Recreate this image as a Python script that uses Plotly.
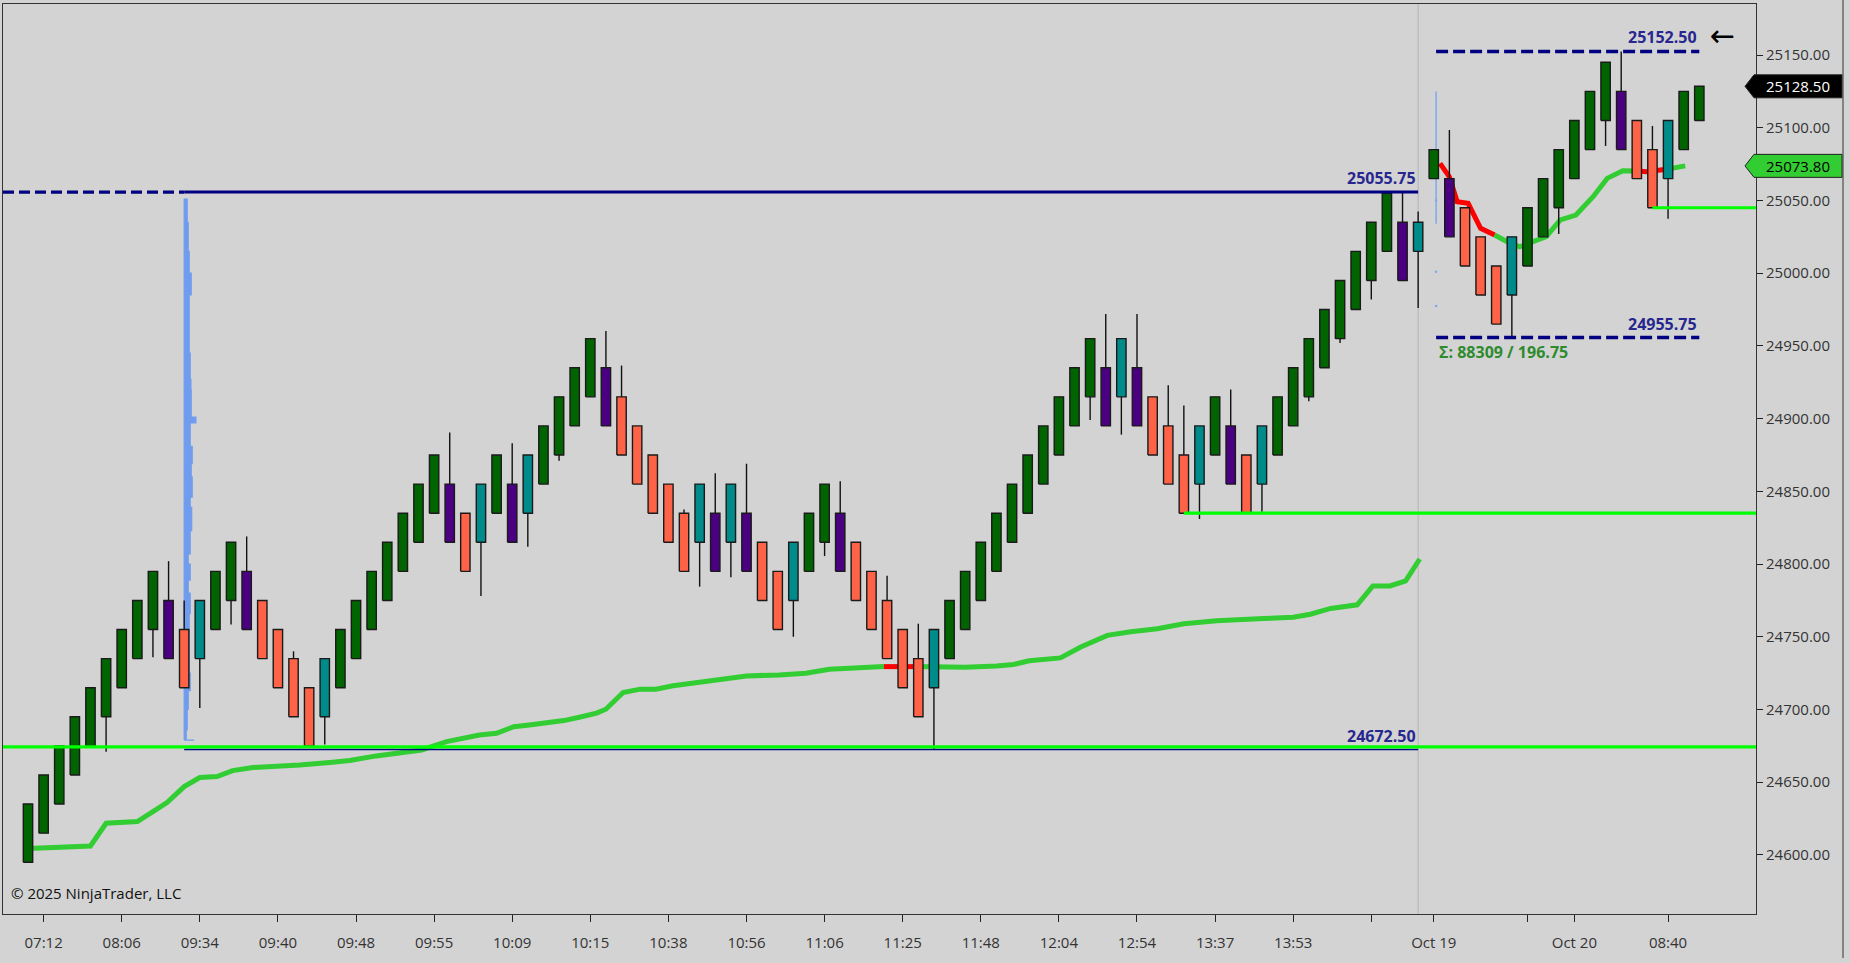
import plotly.graph_objects as go

# ---------------- data ----------------
OPEN = [24595, 24615, 24635, 24655, 24675, 24695, 24715, 24735, 24755, 24775,
        24755, 24735, 24755, 24775, 24795, 24775, 24755, 24735, 24715, 24695,
        24715, 24735, 24755, 24775, 24795, 24815, 24835, 24855, 24835, 24815,
        24835, 24855, 24835, 24855, 24875, 24895, 24915, 24935, 24915, 24895,
        24875, 24855, 24835, 24815, 24835, 24815, 24835, 24815, 24795, 24775,
        24795, 24815, 24835, 24815, 24795, 24775, 24755, 24735, 24715, 24735,
        24755, 24775, 24795, 24815, 24835, 24855, 24875, 24895, 24915, 24935,
        24915, 24935, 24915, 24895, 24875, 24855, 24875, 24895, 24875, 24855,
        24875, 24895, 24915, 24935, 24955, 24975, 24995, 25015, 25035, 25015,
        25065, 25065, 25045, 25025, 25005, 24985, 25005, 25025, 25045, 25065,
        25085, 25105, 25125, 25105, 25085, 25065, 25085, 25105]
HIGH = [24635, 24655, 24675, 24695, 24715, 24735, 24755, 24775, 24795, 24802,
        24775, 24775, 24795, 24815, 24819, 24775, 24755, 24740, 24715, 24735,
        24755, 24775, 24795, 24815, 24835, 24855, 24875, 24890.5, 24835, 24855,
        24875, 24883, 24875, 24895, 24915, 24935, 24955, 24960.25, 24936.5, 24895,
        24875, 24855, 24837.5, 24855, 24862.5, 24855, 24869, 24815, 24795, 24815,
        24835, 24855, 24857, 24815, 24795, 24792, 24755, 24759, 24755, 24775,
        24795, 24815, 24835, 24855, 24875, 24895, 24915, 24935, 24955, 24972,
        24955, 24972, 24915, 24923, 24909, 24895, 24915, 24920, 24875, 24895,
        24915, 24935, 24955, 24975, 24995, 25015, 25035, 25055, 25055.75, 25042.5,
        25085, 25098.5, 25045, 25025, 25005, 25025, 25045, 25065, 25085, 25105,
        25125, 25145, 25152.5, 25105, 25101.25, 25105, 25125, 25128.5]
LOW = [24595, 24615, 24635, 24655, 24675, 24671, 24715, 24735, 24736, 24735,
       24715, 24701, 24755, 24758.5, 24755, 24735, 24715, 24695, 24675, 24676,
       24715, 24735, 24755, 24775, 24795, 24815, 24835, 24815, 24795, 24778,
       24835, 24815, 24812, 24855, 24871, 24895, 24915, 24895, 24875, 24855,
       24835, 24815, 24795, 24784.5, 24795, 24791, 24795, 24775, 24755, 24750,
       24795, 24805.5, 24795, 24775, 24755, 24735, 24715, 24695, 24672.5, 24735,
       24755, 24775, 24795, 24815, 24835, 24855, 24875, 24895, 24899, 24895,
       24889, 24895, 24875, 24855, 24835, 24831, 24875, 24855, 24835, 24836,
       24875, 24895, 24912, 24935, 24952, 24975, 24982, 25015, 24995, 24976,
       25065, 25025, 25005, 24985, 24965, 24955.75, 25005, 25025, 25027, 25065,
       25085, 25087.5, 25085, 25065, 25045, 25037.5, 25085, 25105]
CLOSE = [24635, 24655, 24675, 24695, 24715, 24735, 24755, 24775, 24795, 24735,
         24715, 24775, 24795, 24815, 24755, 24735, 24715, 24695, 24675, 24735,
         24755, 24775, 24795, 24815, 24835, 24855, 24875, 24815, 24795, 24855,
         24875, 24815, 24875, 24895, 24915, 24935, 24955, 24895, 24875, 24855,
         24835, 24815, 24795, 24855, 24795, 24855, 24795, 24775, 24755, 24815,
         24835, 24855, 24795, 24775, 24755, 24735, 24715, 24695, 24755, 24775,
         24795, 24815, 24835, 24855, 24875, 24895, 24915, 24935, 24955, 24895,
         24955, 24895, 24875, 24855, 24835, 24895, 24915, 24855, 24835, 24895,
         24915, 24935, 24955, 24975, 24995, 25015, 25035, 25055, 24995, 25035,
         25085, 25025, 25005, 24985, 24965, 25025, 25045, 25065, 25085, 25105,
         25125, 25145, 25085, 25065, 25045, 25105, 25125, 25128.5]

# x-axis labels (bar index -> label)
TICK_BARS = [2, 7, 12, 17, 22, 27, 32, 37, 42, 47, 52, 57, 62, 67, 72, 77, 82, 87, 91, 97, 100, 106]
TICK_TEXT = ["07:12", "08:06", "09:34", "09:40", "09:48", "09:55", "10:09", "10:15", "10:38",
             "10:56", "11:06", "11:25", "11:48", "12:04", "12:54", "13:37", "13:53", "",
             "Oct 19", "", "Oct 20", "08:40"]
Y_TICKS = [24600, 24650, 24700, 24750, 24800, 24850, 24900, 24950, 25000, 25050, 25100, 25150]

# VWAP-like line (bar position, price) with colour of each segment
VWAP1_X = [1, 5.0, 6.0, 8.0, 9.0, 9.9, 11.0, 12.0, 13.1, 14.1, 15.4, 16.9, 18.4, 20.5, 21.6,
           23.3, 26.2, 27.8, 28.9, 29.9, 31.0, 32.1, 33.1, 34.2, 35.3, 36.3, 37.4, 38.0, 39.1,
           40.2, 41.2, 42.3, 43.8, 44.9, 47.0, 49.1, 50.8, 52.3, 53.4, 55.5, 55.8, 57.7, 61.0,
           63.0, 64.1, 65.1, 67.1, 68.4, 70.1, 71.6, 73.3, 75.0, 77.1, 80.1, 82.0, 83.1, 84.4,
           86.1, 87.1, 88.2, 89.2, 90.1]
VWAP1_Y = [24604.5, 24606.2, 24621.8, 24623, 24629.8, 24636, 24647, 24653.2, 24653.9, 24658,
           24660.1, 24660.8, 24661.9, 24663.8, 24664.9, 24668.1, 24672.2, 24677.9, 24680.2,
           24682.5, 24683.7, 24688.2, 24689.4, 24690.6, 24692.4, 24694.7, 24697.5, 24700.2,
           24711.7, 24714, 24714, 24716.3, 24718.5, 24719.9, 24723.1, 24723.8, 24725, 24727.7,
           24728.4, 24729.5, 24729.5, 24729.5, 24729, 24730, 24731, 24733.5, 24735.5, 24743,
           24751, 24753.5, 24755.5, 24759, 24761, 24762.5, 24763.5, 24765.5, 24769.5, 24772,
           24785, 24785, 24788.5, 24803.5]
VWAP1_SEG = ["g"] * 40 + ["r"] + ["g"] * 21
VWAP2_X = [91.4, 92.0, 92.5, 93.2, 94.0, 94.9, 95.7, 96.5, 97.4, 98.2, 99.1, 100.1, 101.2,
           102.1, 103.1, 104.1, 104.6, 105.9, 107.1]
VWAP2_Y = [25075.5, 25066.3, 25049.2, 25048, 25030.9, 25026.3, 25021.7, 25018.2, 25021.7,
           25025.1, 25036.6, 25040, 25052.6, 25065.2, 25070.5, 25070.2, 25069.8, 25071.5, 25073.8]
VWAP2_SEG = ["r"] * 5 + ["g"] * 10 + ["r", "r"] + ["g"]

# volume profile of the first session (price, relative size)
VP1_PRICE = [24679, 24681, 24686, 24700, 24713, 24725, 24743, 24766, 24780, 24789, 24800,
             24807, 24823, 24839, 24846, 24860, 24869, 24881, 24897, 24901, 24920, 24927,
             24945, 24965, 24985, 25000, 25015, 25035, 25051]
VP1_SIZE = [10, 2, 2, 3, 4, 6, 5, 5, 6, 4, 6, 4, 6, 7.5, 6, 8, 7, 8, 6, 11.7, 7, 6.7, 6, 5, 5,
            7, 5, 4, 3]
VP1_BAR = 11
VP2_BAR = 91.15
VP2_RANGE = [25034, 25125]
VP2_DOTS = [24977.5, 25001, 25050]

SESSION_BREAK_BAR = 90
PREV_HIGH, PREV_LOW = 25055.75, 24672.50
SUPPORT_LINES = [(-0.6, 24674.25), (75, 24835), (105, 25045)]
S2_HIGH, S2_LOW = 25152.50, 24955.75
S2_RANGE = [91.15, 108.0]
S2_STATS = "Σ: 88309 / 196.75"
LAST_PRICE = 25128.50
VWAP_LAST = 25073.80

# ---------------- geometry / style ----------------
W, H = 1850, 963
ML, MR, MT, MB = 3, 94, 4, 49
XR = [-0.6, 111.63]
YR = [24559.4, 25185.1]
PX_PER_BAR = (W - ML - MR) / (XR[1] - XR[0])
PX_PER_PT = (H - MT - MB) / (YR[1] - YR[0])
BG = "#D3D3D3"
FONT = "Open Sans, sans-serif"
NAVY = "#000080"
LBL = "#27278F"


def px_to_paper_x(px):
    return (px - ML) / (W - ML - MR)


fig = go.Figure()

# volume profile session 1
vx = [VP1_BAR] + [VP1_BAR + s / PX_PER_BAR for s in VP1_SIZE] + [VP1_BAR, VP1_BAR]
vy = [VP1_PRICE[0]] + VP1_PRICE + [VP1_PRICE[-1], VP1_PRICE[0]]
fig.add_trace(go.Scatter(x=vx, y=vy, mode="lines", line=dict(color="#6F9CEE", width=1.2, shape="hv"),
                         fill="toself", fillcolor="#6F9CEE", hoverinfo="skip"))
fig.add_trace(go.Scatter(x=[VP2_BAR, VP2_BAR], y=VP2_RANGE, mode="lines",
                         line=dict(color="#7FA8F0", width=1.5), hoverinfo="skip"))
fig.add_trace(go.Scatter(x=[VP2_BAR] * len(VP2_DOTS), y=VP2_DOTS, mode="markers",
                         marker=dict(color="#7FA8F0", size=2.5), hoverinfo="skip"))


# VWAP line, split into colour runs
def add_runs(xs, ys, seg):
    start = 0
    for i in range(1, len(seg) + 1):
        if i == len(seg) or seg[i] != seg[start]:
            col = "#32CD32" if seg[start] == "g" else "#FF0000"
            fig.add_trace(go.Scatter(x=xs[start:i + 1], y=ys[start:i + 1], mode="lines",
                                     line=dict(color=col, width=5), hoverinfo="skip"))
            start = i


add_runs(VWAP1_X, VWAP1_Y, VWAP1_SEG)
add_runs(VWAP2_X, VWAP2_Y, VWAP2_SEG)

# candles
X = list(range(1, len(OPEN) + 1))
wx, wy = [], []
for i, h, l in zip(X, HIGH, LOW):
    wx += [i, i, None]
    wy += [l, h, None]
fig.add_trace(go.Scatter(x=wx, y=wy, mode="lines", line=dict(color="#111111", width=1.4),
                         hoverinfo="skip"))

cats = []
prev = None
for o, c in zip(OPEN, CLOSE):
    up = c > o
    if prev is None or up == prev:
        cats.append("up" if up else "down")
    else:
        cats.append("rev_up" if up else "rev_down")
    prev = up

FILL = {"up": "#006400", "rev_down": "#4B0082", "down": "#FF6347", "rev_up": "#008B8B"}
HALF = 0.3
for cat, col in FILL.items():
    bx, by = [], []
    for i, o, c, k in zip(X, OPEN, CLOSE, cats):
        if k != cat:
            continue
        lo, hi = min(o, c), max(o, c)
        bx += [i - HALF, i + HALF, i + HALF, i - HALF, i - HALF, None]
        by += [lo, lo, hi, hi, lo, None]
    fig.add_trace(go.Scatter(x=bx, y=by, mode="lines", fill="toself", fillcolor=col,
                             line=dict(color="#1a1a1a", width=1.4), hoverinfo="skip"))

# previous-session range lines
fig.add_trace(go.Scatter(x=[XR[0], VP1_BAR], y=[PREV_HIGH, PREV_HIGH], mode="lines",
                         line=dict(color=NAVY, width=3.2, dash="11px,5px"), hoverinfo="skip"))
fig.add_trace(go.Scatter(x=[VP1_BAR, SESSION_BREAK_BAR], y=[PREV_HIGH, PREV_HIGH], mode="lines",
                         line=dict(color=NAVY, width=3), hoverinfo="skip"))
fig.add_trace(go.Scatter(x=[VP1_BAR, SESSION_BREAK_BAR], y=[PREV_LOW, PREV_LOW], mode="lines",
                         line=dict(color=NAVY, width=1.5), hoverinfo="skip"))

# support lines
for x0, lvl in SUPPORT_LINES:
    fig.add_trace(go.Scatter(x=[x0, XR[1]], y=[lvl, lvl], mode="lines",
                             line=dict(color="#00FF00", width=3.2), hoverinfo="skip"))

# session 2 range dashed lines
for lvl in (S2_HIGH, S2_LOW):
    fig.add_trace(go.Scatter(x=S2_RANGE, y=[lvl, lvl], mode="lines",
                             line=dict(color=NAVY, width=3.5, dash="12px,5px"), hoverinfo="skip"))

ann = []
lblfont = dict(family=FONT, size=16, color=LBL, weight="bold")
for xb, lvl in ((SESSION_BREAK_BAR, PREV_HIGH), (SESSION_BREAK_BAR, PREV_LOW),
                (S2_RANGE[1], S2_HIGH), (S2_RANGE[1], S2_LOW)):
    ann.append(dict(x=xb, y=lvl, xref="x", yref="y", text=f"{lvl:.2f}", showarrow=False,
                    xanchor="right", yanchor="bottom", yshift=1, font=lblfont))
ann.append(dict(x=S2_RANGE[0], y=S2_LOW, xref="x", yref="y", text=S2_STATS, showarrow=False,
                xanchor="left", yanchor="top", xshift=1, yshift=-1,
                font=dict(family=FONT, size=16, color="#2E8B2E", weight="bold")))
ann.append(dict(x=px_to_paper_x(9), y=(H - MB - 893) / (H - MT - MB), xref="paper", yref="paper",
                text="© 2025 NinjaTrader, LLC", showarrow=False, xanchor="left", yanchor="middle",
                font=dict(family=FONT, size=15, color="#111111")))
ann.append(dict(x=px_to_paper_x(1722), y=(H - MB - 36) / (H - MT - MB), xref="paper", yref="paper",
                text="←", showarrow=False, xanchor="center", yanchor="middle",
                font=dict(family="DejaVu Sans", size=30, color="#000000")))

# price tags on the right axis
shapes = []
for val, fillc, txtc in ((LAST_PRICE, "#000000", "#FFFFFF"), (VWAP_LAST, "#32CD32", "#000000")):
    h = 11.5 / PX_PER_PT
    xt, xs_, xr = px_to_paper_x(1745), px_to_paper_x(1754), px_to_paper_x(1842)
    shapes.append(dict(type="path", xref="paper", yref="y",
                       path=f"M {xt},{val} L {xs_},{val + h} L {xr},{val + h} L {xr},{val - h} L {xs_},{val - h} Z",
                       fillcolor=fillc, line=dict(color="#222222", width=1)))
    ann.append(dict(x=px_to_paper_x(1798), y=val, xref="paper", yref="y", text=f"{val:.2f}",
                    showarrow=False, xanchor="center", yanchor="middle",
                    font=dict(family=FONT, size=15, color=txtc)))

# session break line
shapes.append(dict(type="line", xref="x", yref="paper", x0=SESSION_BREAK_BAR, x1=SESSION_BREAK_BAR,
                   y0=0, y1=1, line=dict(color="#B5B5B5", width=1), layer="below"))
# outer right border
shapes.append(dict(type="line", xref="paper", yref="paper", x0=px_to_paper_x(1843), x1=px_to_paper_x(1843),
                   y0=(H - MB - 958) / (H - MT - MB), y1=1 + MT / (H - MT - MB),
                   line=dict(color="#333333", width=1)))

fig.update_layout(
    width=W, height=H, margin=dict(l=ML, r=MR, t=MT, b=MB),
    plot_bgcolor=BG, paper_bgcolor=BG, showlegend=False,
    annotations=ann, shapes=shapes,
    xaxis=dict(range=XR, tickmode="array", tickvals=TICK_BARS, ticktext=TICK_TEXT,
               ticks="outside", ticklen=7, tickwidth=1, tickcolor="#222222",
               ticklabelstandoff=8,
               showgrid=False, zeroline=False, showline=True, mirror=True,
               linecolor="#333333", linewidth=1,
               tickfont=dict(family=FONT, size=15, color="#333333")),
    yaxis=dict(range=YR, side="right", tickmode="array", tickvals=Y_TICKS, tickformat=".2f",
               ticks="outside", ticklen=6, tickwidth=1, tickcolor="#222222",
               showgrid=False, zeroline=False, showline=True, mirror=True,
               linecolor="#333333", linewidth=1,
               tickfont=dict(family=FONT, size=15, color="#333333")),
)

fig.write_html("out.html", config={"displayModeBar": False},
               post_script="document.body.style.margin='0';document.body.style.overflow='hidden';")
